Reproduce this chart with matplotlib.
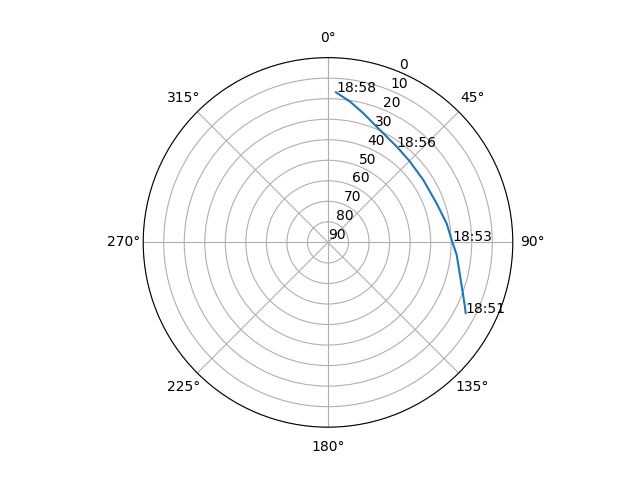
import matplotlib
matplotlib.use('Agg')
import matplotlib.pyplot as plt
import numpy as np

# satellite pass track (azimuth deg, elevation deg), in time order
azimuth = [117.2, 114.6, 110.1, 103.9, 95.6, 89.4, 80.9, 70.2, 56.8, 44.9, 35.7, 22.8, 15.3, 8.9, 3.05]
elevation = [14.6, 16.8, 20.2, 23.8, 27.0, 29.6, 31.5, 33.8, 34.5, 33.9, 32.6, 28.9, 24.8, 20.6, 16.8]

# time labels and the track index they sit on
label_times = ['18:51', '18:53', '18:56', '18:58']
label_index = [0, 5, 10, 14]

fig = plt.figure(figsize=(6.4, 4.8), dpi=100)
ax = fig.add_subplot(111, projection='polar')
ax.set_theta_zero_location('N')
ax.set_theta_direction(-1)

theta = np.radians(azimuth)
ax.plot(theta, elevation)

for t, i in zip(label_times, label_index):
    ax.text(theta[i], elevation[i], t)

ax.set_ylim(90, 0)
ax.set_yticks(range(0, 91, 10))

fig.savefig('out.png', dpi=100)
